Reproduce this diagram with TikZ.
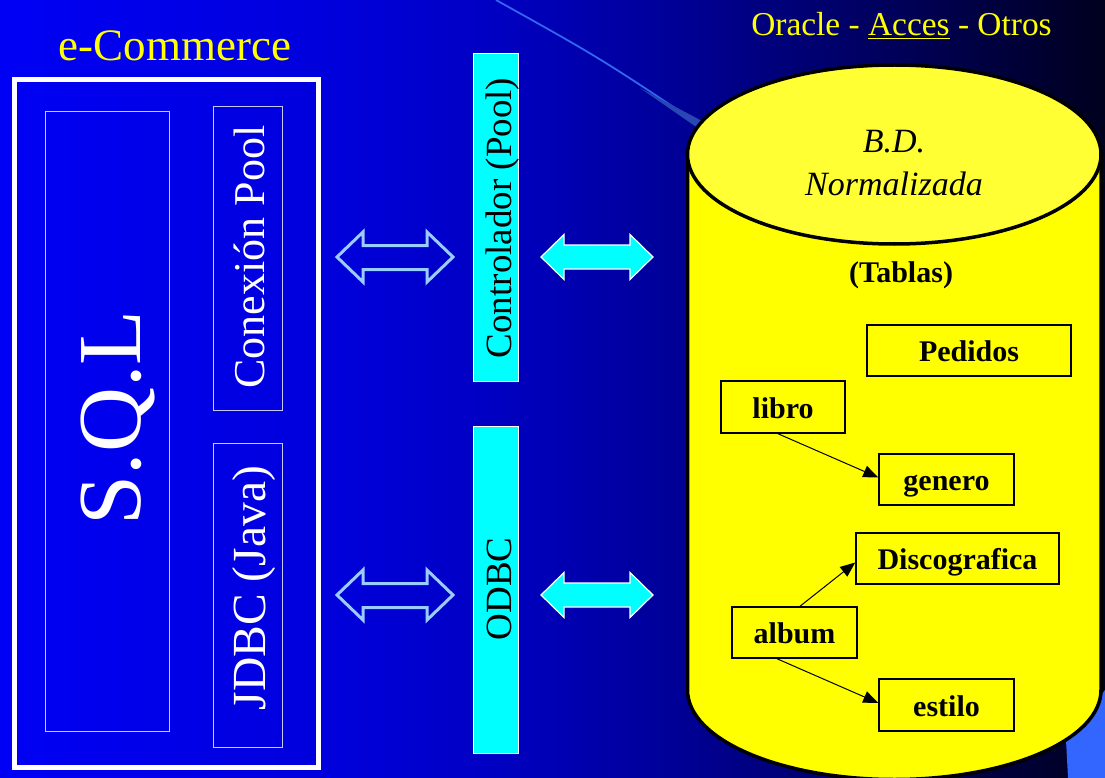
\documentclass[tikz,border=0pt]{standalone}
\usepackage{fontspec}
\setmainfont{Liberation Serif}
\usetikzlibrary{arrows.meta}
\pgfdeclarehorizontalshading{bgshade}{100bp}{rgb(0bp)=(0,0,0.96); rgb(25bp)=(0,0,0.96); rgb(40bp)=(0,0,0.86); rgb(47.5bp)=(0,0,0.76); rgb(56bp)=(0,0,0.58); rgb(65.5bp)=(0,0,0.35); rgb(75bp)=(0,0,0.12); rgb(100bp)=(0,0,0.12)}
\definecolor{hollowblue}{RGB}{153,204,255}
\definecolor{capyellow}{RGB}{255,255,51}
\definecolor{dbyellow}{RGB}{255,255,0}
\definecolor{titleyellow}{RGB}{255,255,0}
\definecolor{barcyan}{RGB}{0,255,255}
\definecolor{boxline}{RGB}{200,200,255}
\definecolor{arcblue}{RGB}{51,102,238}
\definecolor{arcdark}{RGB}{40,70,180}
\definecolor{cornerblue}{RGB}{51,102,255}
\begin{document}
\begin{tikzpicture}[x=1pt,y=-1pt,
  fs/.style={font=\fontsize{#1}{#1}\selectfont},
  fsi/.style={font=\itshape\fontsize{#1}{#1}\selectfont},
  fsb/.style={font=\bfseries\fontsize{#1}{#1}\selectfont},
  wlabel/.style={text=white, rotate=90, anchor=base, inner sep=0},
  klabel/.style={text=black, rotate=90, anchor=base, inner sep=0},
  inbox/.style={draw=boxline, line width=1.2, inner sep=0, anchor=north west},
  cyanbar/.style={fill=barcyan, draw=white, line width=1.2, inner sep=0, anchor=north west},
  tbl/.style={draw=black, line width=1.5, fill=dbyellow, inner sep=0,
    font=\bfseries\fontsize{30}{30}\selectfont, text height=22pt, text depth=0pt},
  rel/.style={-{Triangle[length=15pt,width=12pt]}, line width=1},
  hollowarrow/.pic={\draw[hollowblue, line width=3, line join=miter]
     (-58,0) -- (-32,-25) -- (-32,-11.5) -- (32,-11.5) -- (32,-25) -- (58,0)
     -- (32,25) -- (32,12.5) -- (-32,12.5) -- (-32,25) -- cycle;},
  cyanarrow/.pic={\draw[fill=barcyan, draw=white, line width=1.2]
     (-56,0) -- (-33,-22.5) -- (-33,-12) -- (33,-12) -- (33,-22.5) -- (56,0)
     -- (33,22.5) -- (33,12) -- (-33,12) -- (-33,22.5) -- cycle;}
]
\useasboundingbox (0,0) rectangle (1105,778);
\shade[shading=bgshade] (0,0) rectangle (1105,778);

% background decorations
\draw[arcblue, line width=1.8] (496,0) .. controls (600,58) .. (705,128);
\fill[arcdark] (640,88) -- (702,121) -- (702,131) -- cycle;
\fill[cornerblue] (1068,778) -- (1066,740) -- (1105,690) -- (1105,778) -- cycle;

% titles
\node[fs=45, text=titleyellow, anchor=base, inner sep=0] (ecom) at (175,61) {e-Commerce};
\node[fs=33.4, text=titleyellow, anchor=base, inner sep=0] (orac) at (901.5,36) {Oracle - \underline{Acces} - Otros};

% left block
\node[draw=white, line width=5, inner sep=0, anchor=north west, minimum width=304, minimum height=687] (outer) at (11.5,77.5) {};
\node[inbox, minimum width=124, minimum height=620] (sqlbox) at (45,111) {};
\node[inbox, minimum width=69, minimum height=304] (poolbox) at (213,106) {};
\node[inbox, minimum width=69, minimum height=304] (jdbcbox) at (213,443) {};
\node[wlabel, fs=90] (sql) at (140,418) {S.Q.L};
\node[wlabel, fs=44] (pool) at (264,257) {Conexión Pool};
\node[wlabel, fs=47.5] (jdbc) at (265,588) {JDBC (Java)};

% middle bars
\node[cyanbar, minimum width=45, minimum height=328] (ctrlbox) at (473,53) {};
\node[cyanbar, minimum width=45, minimum height=327] (odbcbox) at (473,426) {};
\node[klabel, fs=37] (ctrl) at (511,218) {Controlador (Pool)};
\node[klabel, fs=37] (odbc) at (511,589) {ODBC};

% block arrows
\pic at (395,257) {hollowarrow};
\pic at (395,595) {hollowarrow};
\pic at (597,257) {cyanarrow};
\pic at (597,595) {cyanarrow};

% cylinder
\draw[line width=3.5, fill=dbyellow] (687.5,154.5) -- (687.5,690)
  .. controls (687.5,739.4) and (780.05,779.5) .. (894.25,779.5)
  .. controls (1008.45,779.5) and (1101,739.4) .. (1101,690) -- (1101,154.5);
\draw[line width=3.5, fill=capyellow] (894.25,154.5) ellipse [x radius=206.75, y radius=89.5];
\node[fsi=34, anchor=base, inner sep=0] (bd) at (894,153) {B.D.};
\node[fsi=34, anchor=base, inner sep=0] (norm) at (894,196) {Normalizada};
\node[fsb=30, anchor=base, inner sep=0] (tablas) at (901,282) {(Tablas)};

% tables
\node[tbl, minimum width=204, minimum height=51] (ped) at (969,350.5) {Pedidos};
\node[tbl, minimum width=124, minimum height=52] (libro) at (783,407) {libro};
\node[tbl, minimum width=135, minimum height=51] (genero) at (946.5,479.5) {genero};
\node[tbl, minimum width=203, minimum height=51] (disco) at (957.5,558.5) {Discografica};
\node[tbl, minimum width=125, minimum height=51] (album) at (794.5,632.5) {album};
\node[tbl, minimum width=135, minimum height=52] (estilo) at (946.5,705) {estilo};

\draw[rel] ([xshift=-5pt]libro.south) -- ([yshift=2pt]genero.west);
\draw[rel] ([xshift=5.5pt]album.north) -- ([yshift=-4pt]disco.west);
\draw[rel] ([xshift=-17.5pt]album.south) -- ([yshift=2pt]estilo.west);
\end{tikzpicture}
\end{document}
